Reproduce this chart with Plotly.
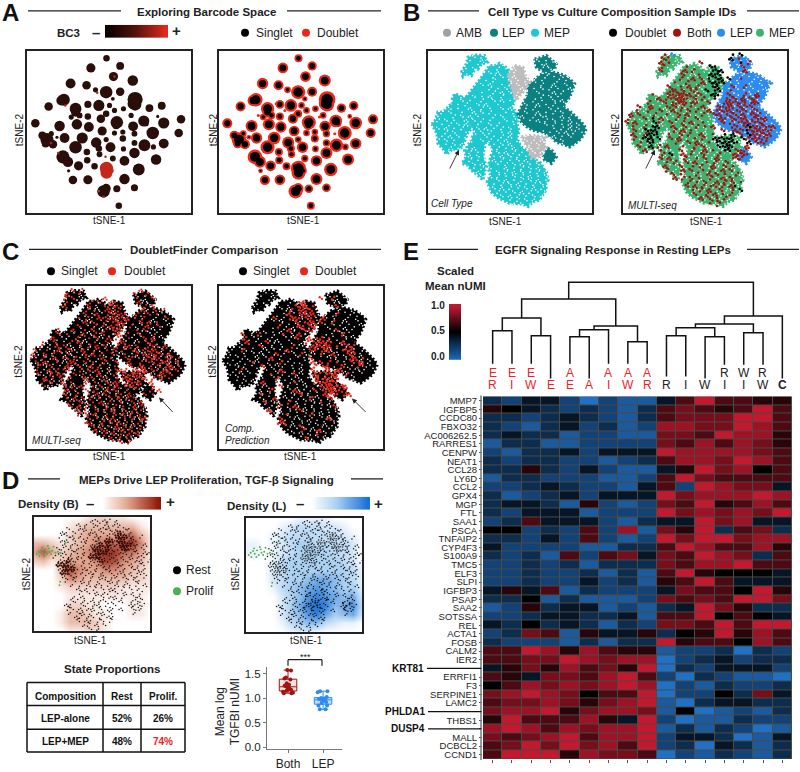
import plotly.graph_objects as go

W, H = 800, 772
FONT = "Liberation Sans"

# ---------- Panel A: barcode space clusters ----------
BLOB_X = [321,362,274,342,400,213,261,320,362,288,193,407,407,147,228,265,298,340,450,487,107,180,232,268,304,352,320,433,493,545,401,142,160,195,248,308,345,460,538,370,228,290,333,372,405,435,493,190,205,263,300,340,405,375,470,237,418,285,207,220,265,375,312,352,405,358,172,475,155,240,462,265,330,395,240,215,345,372,405,298,262,320,370,440,300,128,138,350,228,185,320,400]
BLOB_Y = [173,196,202,228,240,249,254,275,274,268,298,297,312,318,325,312,315,295,323,316,369,377,372,380,355,366,340,362,368,357,378,418,432,413,413,392,398,398,398,415,441,427,441,446,428,435,430,470,485,480,462,475,458,482,478,497,508,498,512,540,539,537,574,566,563,617,411,348,400,345,440,348,315,345,345,350,330,325,400,445,455,418,395,370,315,405,430,375,335,300,565,310]
BLOB_D = [18,22,26,26,30,28,24,36,24,14,34,44,36,24,34,20,32,10,22,22,24,30,30,28,24,36,18,32,32,24,28,38,24,28,32,26,14,36,24,18,36,30,28,14,16,34,28,38,30,18,16,16,30,28,30,26,34,18,8,24,26,30,36,20,20,18,8,8,14,14,14,18,14,14,16,14,14,14,16,18,18,14,14,14,24,22,22,22,26,28,26,30]
CENTER_X = [321,321,336,310]
CENTER_Y = [505,518,512,498]
CENTER_D = [40,36,14,14]
SPOT_X = [154,197,176,298,345,293,318,312]
SPOT_Y = [428,315,458,573,228,277,470,590]
EXTRA_DOUBLET_X = [169,206,474,219,264,254,384,200,310,280,430]
EXTRA_DOUBLET_Y = [410,512,345,330,345,310,350,345,340,330,400]

# ---------- Panels B, C: shared embedding regions ----------
MEP_TOP = [(185,215),(192,205),(200,190),(205,170),(225,163),(255,165),(258,175),(250,172),(262,185),(245,190),(235,205),(228,200),(215,225),(200,218),(190,228)]
MEP_MAIN = [(200,290),(222,262),(240,240),(252,222),(270,195),(285,196),(300,188),(315,200),(325,205),(330,225),(335,240),(342,265),(340,290),(345,305),(335,320),(350,335),(355,345),(352,370),(358,395),(352,408),(355,420),(365,440),(385,455),(395,470),(410,480),(422,488),(430,500),(440,515),(445,540),(438,552),(440,570),(428,585),(420,600),(400,605),(385,620),(365,612),(350,612),(330,610),(310,600),(290,590),(275,575),(268,560),(262,545),(272,525),(265,500),(272,475),(280,450),(272,435),(260,420),(255,440),(250,460),(258,500),(250,540),(235,525),(215,510),(205,495),(187,490),(200,470),(195,450),(215,420),(225,390),(215,380),(200,350),(190,320),(185,290)]
MEP_LEFT = [(97,372),(108,358),(115,335),(130,335),(150,315),(160,310),(158,295),(165,280),(178,285),(185,290),(195,330),(205,360),(215,385),(205,395),(195,420),(188,440),(170,450),(160,445),(140,462),(130,445),(115,430),(112,400)]
LEP_MAIN = [(405,175),(420,172),(440,165),(455,178),(470,190),(465,205),(450,205),(460,215),(490,222),(510,235),(525,250),(518,270),(510,290),(498,305),(490,320),(510,332),(530,350),(545,365),(560,385),(552,400),(545,415),(528,428),(510,440),(490,432),(470,425),(455,412),(440,400),(420,395),(400,390),(380,378),(365,365),(355,340),(370,310),(378,295),(385,280),(385,255),(402,240),(420,225),(438,215),(425,210),(410,200)]
LEP_SMALL = [(430,465),(445,445),(458,452),(470,470),(455,490),(435,480)]
AMB_TOP = [(325,225),(335,210),(345,195),(370,200),(378,225),(390,245),(375,270),(360,285),(350,300),(340,280)]
AMB_LOW = [(365,410),(400,405),(425,408),(440,410),(432,425),(440,440),(420,470),(395,475),(385,445)]

SPECKLE = [
"..........................................",
"...........x.y............................",
"..........w..z.............x.w.y..........",
".........y..w.....x.........wz..x.........",
".........w.x.....y.w.z......y.x.w.........",
"........y......x.z...w..y...xwy..z........",
"..........w.....y.x..z..w.x..y.w.x.z......",
"..............w.y...x.w.y.z.w...y.w.......",
".............x.z..w.y.x.w...y..z..x.w.....",
"...............y.w.x...z..w.x.y.w..z......",
".............w..y.z.x.w.y..x...z.y........",
"........y..x.w.z..y...x.w...y.x.w.........",
"........x.w..y..x.z.w.....y.w..x.z........",
".......w.y..x.z..w...y..x..z.w.y..........",
".....x.w..z..y.w..x.z...w.y...x.w.........",
"...y.x..w..z.x.y...w.y..x..z.w.y.x........",
"..w...y.x.z.w...y.x..w.z..y.xw...z.y......",
"..y.x.w..z.x.y.w...x.y...w.z.y.x.w.z......",
"...w.y.x.z..w..x.y...w.......x.y.w.z.x....",
"..x.z.w.y...x.z.w.y.x..........w.y.z.x.w..",
"....y.x..w.z.x.y..w.z..x....y.w.x.z.y.w...",
"...w.z.x.y....x.w.y.z...w.x.y..z.w.x......",
"..y.x.w...z..x.y.w.z..y.x.w.z.y..x........",
"....w.x.z.....y.w.x.z..w.y.x.w...z........",
".....y.w.x.z...x.y.w.z...x.w..............",
".....x....y.w....x.z.y.w..x.z.............",
"..........z.x.y.w.z.x.y.w.................",
"..........y.w.x.z.y.w.x.z..y..............",
"...........x.z...w.y.x.z.w.x.y............",
"...........w.y.x...z.w.y.x.z.w............",
"............z..w.x.y.z.x.w.y.z............",
".............x.z.y.w.x.y.z.w.x............",
"..............y..x.z.w.y.x.z.w............",
"................w.y.x.z.w.y.x.z...........",
"................x.z.y.w.x.z.y.............",
".................y.w.x.z.y.w.x............",
"..................x.z.y.w.x.z.............",
"....................w.y.x.z.y.............",
".....................z.x.w.y..............",
"........................x.................",
]

MULTI_ID = [
"..........................................",
"..........r.c..............k.l............",
"..........st...............mbr.c..........",
".........u.r.......s.........k.t..........",
"..........t.....r.....lk....c.s...........",
".........s.....u.t....klm.....u...........",
"...............s...r..mkl........b........",
"..............t..u.s.k.lm.l..r............",
".............r..t...u.lmkl...........c....",
"...........s..r.u.t...km...s..t....d......",
"............tu.s.rt..l.kl..r....b.........",
".......r...srtusu.tr..ml..s...t..u........",
".........u.trsusr.s.t..k..rts.u.st........",
"......t...s.rtus.ur..s...turstr.us........",
"....s..u...rts.t.r..u...srtu.strs.........",
"...r..t..s..u.r.s.t..u.rstu.rts.trc.......",
"..u.s...t..r..s.u...t..su.rts.u.rst.......",
".t...s.k.u...t.r..s.....ur.stru.tsrub.....",
".s.u....lr..s..t.u..r....s.t.rsutrstd.....",
"..r..t.km...u..s..t.r.u....trcslurtsru....",
"...s..lkm....t.u.r.......s..utrkstursr....",
"..u..tmlk..r..s.t..u..r..k.m.s.lurtsu.....",
"...t.klm.l..s.u...r.t..mklkm..ltsurtr.....",
"....r.lk.....t..s.u..r.klmklk..m.srt......",
"....s..m.t.u...r..t.s...lkml...u..........",
".....u...r....s..t..u.r..kl.srt...........",
"..........t.l..u.r..s...t...utsr..........",
".........s.u...t..r.s..u...rst............",
"...........r.t..s.u..r.t..s...............",
"..........u...s..r.t..u..s.r..............",
"...........t...u.s..r.t..u.s..............",
"............s.r...t..u.s.r..t.............",
".............u.t.s.r..t..u.s..............",
"................t.r.s..u.t.s.r............",
"................s.u.t.rs.t.uk.............",
".................r.t.u..s..r.l............",
"..................s..t.u.r.t..............",
"...................u.s.r.t................",
"......................t.s.................",
".......................r..................",
]

DOUBLET_MULTI = [
"..........................................",
"...........s.t..............u.............",
"..........u..r.............s..t...........",
".........t.s.......u.......r...s..........",
"..........r.....t.s..ur.....u.............",
".........u.....s...rtsur.....t.s..........",
"...............t.r..usrt.....u..s.t.......",
"..............s..u..trsur..t..s.r.........",
".............r.t..urstursu.r.t.....s......",
"..............u.s..t.rsut...s.u.r.........",
".............s...t.r.utsr.t...u..s........",
".......t...u..r.s..t.rus...r.s............",
"........s.r...u..t.s..ru.t..s...r.........",
"......u.....t..r.s..u.t..r...s.u..........",
"....r..s...t.u...r..s..tu...r.st..........",
"...t...u.s...r.t.u.s..t.ru.s..trs.u.......",
"..s..r..u.ts..u..t..r.s.t..u.rstu.r.......",
".u..s.t...r...s.u.t..s..r..t.ursts.u......",
".r..t..u.rs.t..s...u.r...st.r.tsur.st.r...",
"..s.u..r..tu..s.r..t..s..u..t.rs.tur.s....",
"...t..s...ur.s..u.t...r...s.tu.r.s.tu.r...",
"..r..u.t.sr..t.s.u..r.sut.rstu.sr.ut.s....",
"...s..t.ur..s.r...u...t.rstust.r.tu.s.....",
"....u.r.s.t...u.s..t..r.ustrsu.t.s.r......",
"....t.s..u.r...t.r..s.ur.tsru..u..........",
"....r....s.t.u..r.s.t.u.rsut...s..........",
"..........u.r..s.t..u.s..r.....t.u........",
".........s..t..r.u.s..tr.u...s.r..........",
"..........r.u.s.t.r..s.u.t.s..............",
"..........t..s..r.u.t..r..s.u.............",
"...........s.u.t.r..s.t.r..u.s............",
"............u.r..s.t.u..s.t.r.............",
".............t.s.u..r.s.u.t.s.............",
"...............s.r.t.u..r.t.su............",
"...............ur..t.s.u.r..t.............",
"................s.t.r.u.s.t.r.............",
".................u.sr.t.u.s.t.............",
"...................t.s.r.u.s..............",
".....................u.t.r................",
".......................s.t................",
]

DOUBLET_PRED = [
"..........................................",
"..........................................",
"..........................................",
".........................s..t.............",
"....................ru....................",
"...................stu.r.....s............",
"..................t.ruts..................",
".................u..srtu.....t............",
"..............s...tur.sr..u...............",
"...................s.rtu.s..t.............",
"...............t....ur.st.................",
".................u...srt.....s............",
"......s...t.....r...u..........t..........",
"......t............s..u.rt.r..............",
".......u....s.........t.srutr..u..........",
"..........s.......t....urstu.r..st........",
"......t..........u.....sr.tu...rsu........",
"..............s.....t....r..u...st........",
".............u.........s.........tu.r.....",
"........r......t.......u.s.t.r...s.u......",
"...........s............t.ru...s...t......",
".....t.........u.......s..tr.us...........",
".............r.....s....ut.rsu..t.........",
"..............t.........s.urts............",
"...........u.......r....tsruts............",
"...............s.........rtusrtu..........",
".............t.....u....s.rtusrt..........",
"..........r.........s.....utsr.tu.........",
"..............u........t....s.............",
"...........s.....t.......r................",
"...............t...u.........s............",
"............u.......s.....................",
".................r.....t..................",
"...............s...........u..............",
"...............tu.........................",
"....................s.....................",
".....................t...u................",
"........................r.................",
"......................s...................",
"..........................................",
]

# ---------- Panel D ----------
LEP_CELLS = [
".............................",
"..............op.qn.o........",
"...........q.o.pn.q.op.......",
"........p..oq.n.opq.n.po.....",
".......qo.p.n.oq.p.no#q.o....",
"......n.pq.o.n.qo.p.#%#qo.n..",
".......oq.p.no.pq.%#o%#.qp..",
".......q.op.n.oq#n%qo#%#po.q.",
"......pn.q.op.n%#o#q.n#%oq.p.",
"......oq.np.o.q#%#pn.oq.np.qo",
".....n.p.q.on.%#%q.pn.o.q.op.",
"......qo%pn.o.qp#on.q.pn.oq.n",
"......%#%qo.n.p.oq.n.po.q.np.",
"......o#%#p.qn.o.pq.n.o.pq.o.",
".......%#np.o.qn.o.p.nq.o.qp.",
".......q.po.n.o.qp.no.q.po.n.",
"........n.p.q.o.n.pq.o.n.po..",
".........o.n.q.op.n.q.op.n.q.",
"...........q.o.n.p.qo.n.p.o..",
"...........n.p.q.on.p.q.o.n..",
"..........o.q..n.p.oq.n..pq..",
".........pn.o.q.op.n.q..opn..",
"........qo..pn.oq.n.p...qopn.",
"........np.q.oq.p.no.q..pno..",
".........o.pq.n.oq.p.....o...",
"..........qn.op.n.qo.........",
"...........p.qo.np.n.........",
"............on.q.p...........",
"..............p.o............",
]
PROLIF_X = [112,118,125,130,137,142,148,150,158,162,168,175,183,120,135,155,128,145,198,182,180]
PROLIF_Y = [262,255,250,258,248,262,245,255,252,240,258,255,258,268,268,262,242,238,228,345,355]
DENSITY_L_X = [300,310,320,290,305,315,325,300,392,402,412,397,282,335,345,275,295,330]
DENSITY_L_Y = [396,405,398,408,416,412,420,428,405,414,408,425,385,380,395,420,375,365]
DENSITY_B = [
[0,0,0,0,0,0,1,2,2,1,1,0,0,0],
[0,0,0,0,1,2,3,3,3,3,3,3,1,0],
[0,0,0,0,2,3,4,4,4,4,5,6,3,1],
[3,3,2,1,2,3,4,5,6,6,7,8,5,1],
[4,7,4,2,3,4,5,6,8,8,6,6,4,1],
[2,3,1,2,4,4,4,5,8,7,5,4,3,1],
[0,0,0,3,7,5,4,4,5,5,4,3,2,1],
[0,0,0,2,5,4,3,3,3,3,3,2,2,1],
[0,0,0,1,2,2,2,2,2,2,1,1,1,1],
[0,0,0,0,1,1,1,1,1,1,1,1,1,0],
[0,0,0,0,2,2,1,1,0,0,0,1,1,0],
[0,0,0,1,3,3,2,1,1,0,0,1,1,0],
[0,0,0,1,3,3,3,2,1,0,0,0,0,0],
[0,0,0,0,1,1,2,2,1,0,0,0,0,0],
]
DENSITY_L = [
[0,0,0,0,0,0,1,1,1,1,0,0,0,0],
[0,0,0,0,1,2,3,3,3,2,2,1,0,0],
[0,0,0,1,2,3,3,3,3,3,3,2,1,0],
[1,1,0,1,2,3,4,4,3,3,3,3,2,0],
[1,1,0,1,2,3,4,4,4,4,3,3,2,0],
[0,0,0,1,3,4,4,4,4,4,4,3,2,0],
[0,0,0,2,3,4,4,4,4,4,4,4,3,1],
[0,0,0,2,3,4,4,5,6,6,5,4,3,1],
[0,0,0,1,3,4,5,6,7,6,5,4,4,1],
[0,0,0,0,2,4,5,7,8,7,6,5,6,2],
[0,0,0,0,2,4,6,8,9,8,5,6,7,3],
[0,0,0,0,2,4,5,7,8,6,4,5,6,2],
[0,0,0,0,1,3,4,5,5,3,2,1,1,0],
[0,0,0,0,0,1,2,2,1,0,0,0,0,0],
]
TGFBI_BOTH = [1.57,1.56,1.42,1.40,1.38,1.30,1.27,1.25,1.23,1.20,1.18,1.17,1.15,1.13,1.11,1.10,1.10]
TGFBI_LEP = [1.14,1.14,1.12,1.02,1.00,0.99,0.98,0.97,0.96,0.94,0.92,0.90,0.85,0.85,0.77,0.77]
TABLE_HEAD = ["Composition","Rest","Prolif."]
TABLE_COMP = ["LEP-alone","LEP+MEP"]
TABLE_REST = ["52%","48%"]
TABLE_PROLIF = ["26%","74%"]

# ---------- Panel E ----------
GENES = ["MMP7","IGFBP5","CCDC80","FBXO32","AC006262.5","RARRES1","CENPW","NEAT1","CCL28","LY6D","CCL2","GPX4","MGP","FTL","SAA1","PSCA","TNFAIP2","CYP4F3","S100A9","TMC5","ELF3","SLPI","IGFBP3","PSAP","SAA2","SOTSSA","REL","ACTA1","FOSB","CALM2","IER2","KRT81","ERRFI1","F3","SERPINE1","LAMC2","PHLDA1","THBS1","DUSP4","MALL","DCBCL2","CCND1"]
BOLD_GENES = ["KRT81","PHLDA1","DUSP4"]
EXPR = [
[3,2,4,4,2,0,2,1,1,4,7,10,7,7,6,6],
[6,5,4,3,2,3,2,1,3,7,8,7,6,7,10,7],
[3,3,2,3,4,3,2,1,3,7,8,8,8,10,10,7],
[3,2,1,3,4,2,3,1,2,9,9,8,8,10,9,7],
[3,4,3,3,1,2,2,1,1,8,8,7,10,9,9,6],
[1,3,3,1,1,2,2,2,2,8,7,9,7,9,8,6],
[2,1,3,3,4,2,4,4,4,10,9,9,9,9,8,7],
[3,2,3,3,2,2,1,2,3,7,9,9,8,10,9,7],
[3,3,6,3,2,4,2,1,1,4,6,10,8,9,5,7],
[1,3,3,2,2,2,1,1,2,7,10,8,7,7,7,7],
[2,2,3,4,3,2,2,1,4,7,2,10,9,8,8,4],
[3,1,2,3,4,2,4,4,4,10,8,9,9,9,10,9],
[3,4,4,3,1,6,2,1,2,8,7,10,6,7,9,7],
[3,2,4,4,4,1,2,2,2,10,8,9,8,9,8,10],
[2,3,7,4,4,4,2,1,3,4,4,10,8,9,4,4],
[5,5,2,3,2,7,2,9,1,8,6,10,3,7,8,3],
[3,3,2,4,2,7,2,1,2,10,8,10,10,8,9,9],
[4,2,2,2,2,1,1,3,3,7,10,9,7,7,9,6],
[3,2,3,1,7,2,7,8,4,8,7,10,9,8,3,7],
[2,2,3,2,3,1,3,3,3,8,7,9,9,10,7,7],
[2,2,3,2,2,3,1,3,1,7,10,6,5,5,5,4],
[2,2,3,2,2,4,2,3,1,6,7,10,7,4,4,4],
[4,6,4,7,1,3,2,2,2,4,8,7,7,5,10,6],
[3,3,5,1,3,1,1,1,2,8,7,8,7,10,10,8],
[1,2,6,3,4,4,1,2,1,3,4,10,8,6,3,3],
[2,2,3,4,4,3,3,4,1,7,7,10,5,7,5,4],
[4,3,5,3,4,3,1,3,2,8,8,7,10,7,10,10],
[2,3,8,7,1,6,4,4,6,3,5,6,10,6,9,7],
[3,2,2,2,1,3,1,3,3,10,6,7,7,5,9,7],
[7,7,10,9,6,9,7,6,6,1,2,2,3,0,3,2],
[7,7,8,8,10,9,8,9,9,0,2,3,4,2,3,3],
[4,6,8,6,9,7,8,6,10,0,3,2,4,4,4,2],
[7,6,4,8,8,7,9,10,7,2,0,3,2,1,1,0],
[5,7,9,8,9,8,9,10,9,0,2,1,3,2,2,3],
[8,9,10,9,8,5,7,7,10,0,2,2,5,3,8,4],
[7,8,8,9,8,6,8,9,10,1,0,3,4,4,3,3],
[8,9,9,10,6,8,9,9,8,1,5,0,1,2,1,3],
[6,10,7,7,7,9,6,4,10,2,0,1,1,3,2,2],
[9,10,9,7,9,8,9,9,10,1,3,1,3,2,0,1],
[8,7,8,9,10,7,9,9,10,2,4,4,3,0,1,4],
[7,8,10,8,10,8,9,7,10,2,3,0,4,3,1,3],
[7,10,10,10,6,9,8,8,7,0,2,1,3,2,1,3],
]
LEAF_TOP = ["E","E","E","","A","","A","A","A","","","","R","W","R",""]
LEAF_BOTTOM = ["R","I","W","E","E","A","I","W","R","R","I","W","I","I","W","C"]
LEAF_COLOR = ["#e8262a"]*9 + ["#222222"]*7
LEAF_BASE = [18,18,18,3,18,3,18,18,18,5,5,3,17,17,17,3]
MERGE_LEFT = [0,2,16,4,19,7,20,18,9,11,24,13,26,28,23]
MERGE_RIGHT = [1,3,17,5,6,8,21,22,10,12,25,14,27,15,29]
MERGE_HEIGHT = [51,46,64,45,52,40,56,83,46,45,54,49,58,66,100]
RAMP = [0,.1,.2,.3,.4,.5,.6,.7,.8,.9,1]
EXPR_SCALE = [[0,"#2070c4"],[.5,"#000000"],[1,"#c4182e"]]

# raster key: which series each letter belongs to, and which small group of points it stands for
SERIES_OF = dict(r="r",s="r",t="r",u="r",k="k",l="k",m="k",b="b",c="b",d="b",w="w",x="w",y="w",z="w",o="o",p="o",q="o",n="o")
SERIES_OF["#"] = "#"; SERIES_OF["%"] = "#"
GROUPS = {
 "r":[(0,0)], "k":[(0,0)], "b":[(0,0)], "w":[(0,0)], "o":[(0,0),(-5,4)],
 "s":[(-4,-3),(3,2)], "l":[(-4,-3),(3,2)], "c":[(-4,-3),(3,2)], "x":[(-4,-3),(3,2)], "p":[(-4,-3),(3,2)],
 "t":[(4,-4),(-3,4)], "d":[(4,-4),(-3,4)], "y":[(4,-4),(-3,4)], "n":[(4,-4),(-3,4)],
 "u":[(-5,2),(1,-2),(5,5)], "m":[(-5,2),(1,-2),(5,5)], "z":[(-5,2),(1,-2),(5,5)], "q":[(-5,2),(1,-2),(5,5)],
 "#":[(-4,-4),(4,-3),(-2,3),(5,4)], "%":[(-5,1),(0,-5),(4,2),(-1,5)],
}

# ---------- helpers ----------
def px(x): return x / W
def py(y): return 1 - y / H

layout = dict(width=W, height=H, margin=dict(l=0, r=0, t=0, b=0), paper_bgcolor="white",
              plot_bgcolor="white", showlegend=False, font=dict(family=FONT, color="#222222"),
              annotations=[], shapes=[])
fig = go.Figure()
count = [0]

def axes(x0, y0, x1, y1, xr, yr, frame=True, xopt=None, yopt=None):
    count[0] += 1
    n = count[0]
    s = "" if n == 1 else str(n)
    base = dict(showgrid=False, zeroline=False, showticklabels=False, ticks="", layer="above traces")
    if frame:
        base.update(showline=True, mirror=True, linewidth=2, linecolor="#222222")
    xa = dict(base, domain=[px(x0), px(x1)], anchor="y" + s)
    ya = dict(base, domain=[py(y1), py(y0)], anchor="x" + s)
    if xr: xa["range"] = xr
    if yr: ya["range"] = yr
    xa.update(xopt or {})
    ya.update(yopt or {})
    layout["xaxis" + s] = xa
    layout["yaxis" + s] = ya
    return dict(xaxis="x" + s, yaxis="y" + s)

def text(x, y, s, size=12, bold=False, color="#222222", anchor="center", italic=False, angle=0):
    if bold: s = "<b>%s</b>" % s
    if italic: s = "<i>%s</i>" % s
    layout["annotations"].append(dict(x=px(x), y=py(y), xref="paper", yref="paper", text=s, showarrow=False,
        xanchor=anchor, yanchor="middle", textangle=angle, align="center",
        font=dict(size=size, color=color, family=FONT), borderpad=0, borderwidth=0))

def line(x0, y0, x1, y1, color="#222222", width=1.5):
    layout["shapes"].append(dict(type="line", xref="paper", yref="paper", x0=px(x0), y0=py(y0), x1=px(x1), y1=py(y1),
                                 line=dict(color=color, width=width)))

def dot(x, y, color, r=4):
    layout["shapes"].append(dict(type="circle", xref="paper", yref="paper", x0=px(x-r), x1=px(x+r), y0=py(y+r), y1=py(y-r),
                                 fillcolor=color, line=dict(width=0)))

def arrow(x0, y0, x1, y1):
    layout["annotations"].append(dict(x=px(x1), y=py(y1), xref="paper", yref="paper", ax=x0-x1, ay=y0-y1,
        axref="pixel", ayref="pixel", text="", showarrow=True, arrowhead=2, arrowsize=1.1, arrowwidth=0.9, arrowcolor="#222222"))

def section(letter, lx, y, title, tx, segs):
    text(lx, y + 2, letter, 24, True, "#111111", "left")
    text(tx, y + 1, title, 11.5, True)
    for a, b in segs:
        line(a, y, b, y, "#222222", 1.3)

def lattice(rows, x0, y0, step, stagger):
    out = {}
    for r, row in enumerate(rows):
        for c, ch in enumerate(row):
            if ch != ".":
                xs, ys = out.setdefault(SERIES_OF[ch], ([], []))
                for dx, dy in GROUPS[ch]:
                    xs.append(x0 + c * step + (step / 2 if stagger and r % 2 else 0) + dx)
                    ys.append(y0 + r * step + dy)
    return out

def poly(points, color, ax):
    xs = [p[0] for p in points] + [points[0][0]]
    ys = [p[1] for p in points] + [points[0][1]]
    fig.add_trace(go.Scatter(x=xs, y=ys, mode="lines", fill="toself", fillcolor=color,
                             line=dict(color=color, width=3.2, dash="2px,2px"), hoverinfo="skip", **ax))

def pts(xs, ys, color, size, ax):
    fig.add_trace(go.Scatter(x=xs, y=ys, mode="markers", marker=dict(color=color, size=size, opacity=1, line=dict(width=0)), hoverinfo="skip", **ax))

def ramp(x0, y0, x1, y1, scale, vertical=False):
    ax = axes(x0, y0, x1, y1, None, None, frame=False)
    z = [[v, v] for v in RAMP] if vertical else [RAMP, RAMP]
    fig.add_trace(go.Heatmap(z=z, colorscale=scale, zmin=0, zmax=1, zsmooth="best", showscale=False, hoverinfo="skip", **ax))

XR, YR = [85, 577], [638, 150]
AXR, AYR = [82, 575], [638, 150]

def embedding(box, colors, overlay=None, overlay_colors=None, overlay_size=2.6):
    ax = axes(box[0], box[1], box[2], box[3], XR, YR)
    for p in (MEP_TOP, MEP_MAIN, MEP_LEFT):
        poly(p, colors["MEP"], ax)
    for p in (LEP_MAIN, LEP_SMALL):
        poly(p, colors["LEP"], ax)
    for p in (AMB_TOP, AMB_LOW):
        poly(p, colors["AMB"], ax)
    sp = lattice(SPECKLE, XR[0] + 6, YR[1] + 6, 12, False)["w"]
    pts(sp[0], sp[1], "white", 1.6, ax)
    if overlay:
        for ch, (xs, ys) in lattice(overlay, XR[0], YR[1], 12, True).items():
            pts(xs, ys, overlay_colors[ch], overlay_size, ax)
    return ax

# ---------- A ----------
section("A", 2, 10, "Exploring Barcode Space", 206, [(28, 121), (287, 381)])
text(57, 32, "BC3", 11.5, True, anchor="left")
text(96, 32, "–", 15, True)
text(176, 30, "+", 15, True)
ramp(105, 24, 168, 37, [[0, "#0a0000"], [.5, "#5a120c"], [1, "#e2281a"]])
dot(245, 32, "#000000"); text(256, 32, "Singlet", 12, anchor="left")
dot(306, 32, "#e8261c"); text(317, 32, "Doublet", 12, anchor="left")
ax = axes(27, 50, 191, 213, AXR, AYR)
pts(BLOB_X, BLOB_Y, "#2a0e0a", [d / 3 + 0.5 for d in BLOB_D], ax)
pts(CENTER_X, CENTER_Y, "#c4281a", [d / 3 for d in CENTER_D], ax)
pts(SPOT_X, SPOT_Y, "#b02818", 2.5, ax)
ax = axes(219, 50, 383, 213, AXR, AYR)
pts(BLOB_X + CENTER_X, BLOB_Y + CENTER_Y, "#f0281a", [d / 3 + 2 for d in BLOB_D + CENTER_D], ax)
pts(EXTRA_DOUBLET_X, EXTRA_DOUBLET_Y, "#f0281a", 3, ax)
pts(BLOB_X + CENTER_X, BLOB_Y + CENTER_Y, "#000000", [d / 3 * 0.78 for d in BLOB_D + CENTER_D], ax)
for x in (19, 213):
    text(x, 130, "tSNE-2", 10, angle=-90)
text(109, 221, "tSNE-1", 10); text(303, 221, "tSNE-1", 10)

# ---------- B ----------
section("B", 403, 10, "Cell Type vs Culture Composition Sample IDs", 612, [(428, 479), (747, 799)])
for x, tx, c, s in [(447, 456, "#a0a0a0", "AMB"), (494, 502, "#0c7f80", "LEP"), (535, 544, "#1fc8cf", "MEP"),
                    (613, 625, "#000000", "Doublet"), (677, 687, "#a01410", "Both"), (721, 730, "#2c8cf0", "LEP"), (760, 769, "#3cb371", "MEP")]:
    dot(x, 32, c); text(tx, 32, s, 12, anchor="left")
embedding((428, 50, 592, 213), dict(MEP="#1fc8cf", LEP="#0c7f80", AMB="#bdbdbd"))
embedding((623, 50, 787, 213), dict(MEP="#3cb371", LEP="#2c8cf0", AMB="#3cb371"), MULTI_ID,
          dict(r="#a01410", k="#000000", b="#2c8cf0"))
text(417, 130, "tSNE-2", 10, angle=-90); text(615, 130, "tSNE-2", 10, angle=-90)
text(506, 222, "tSNE-1", 10); text(706, 222, "tSNE-1", 10)
text(431, 204, "Cell Type", 10, italic=True, anchor="left")
text(628, 206, "MULTI-seq", 10, italic=True, anchor="left")
arrow(449, 170, 459, 150); arrow(645, 170, 655, 150)

# ---------- C ----------
section("C", 2, 250, "DoubletFinder Comparison", 204, [(29, 122), (287, 381)])
for x, tx, xr, txr in [(51, 61, 112, 124), (243, 253, 304, 315)]:
    dot(x, 272, "#000000"); text(tx, 272, "Singlet", 12, anchor="left")
    dot(xr, 272, "#e8261c"); text(txr, 272, "Doublet", 12, anchor="left")
BLACK = dict(MEP="#000000", LEP="#000000", AMB="#000000")
embedding((27, 287, 191, 451), BLACK, DOUBLET_MULTI, dict(r="#ee2a1c"), 2.2)
embedding((219, 287, 383, 451), BLACK, DOUBLET_PRED, dict(r="#ee2a1c"), 2.4)
text(19, 363, "tSNE-2", 10, angle=-90); text(213, 363, "tSNE-2", 10, angle=-90)
text(109, 458, "tSNE-1", 10); text(300, 458, "tSNE-1", 10)
text(32, 442, "MULTI-seq", 10, italic=True, anchor="left")
text(225, 430, "Comp.", 10, italic=True, anchor="left")
text(225, 442, "Prediction", 10, italic=True, anchor="left")
arrow(174, 415, 159, 399); arrow(367, 415, 352, 400)

# ---------- D ----------
section("D", 2, 481, "MEPs Drive LEP Proliferation, TGF-β Signaling", 206, [(28, 60), (351, 383)])
text(18, 506, "Density (B)", 11.5, True, anchor="left")
text(90, 506, "–", 15, True); text(170, 504, "+", 15, True)
BSCALE = [[0, "#ffffff"], [.45, "#e2a48e"], [1, "#8f1a08"]]
LSCALE = [[0, "#ffffff"], [.45, "#a9cff2"], [1, "#1a72d8"]]
ramp(99, 499, 161, 512, BSCALE)
text(227, 508, "Density (L)", 11.5, True, anchor="left")
text(300, 506, "–", 15, True); text(378, 506, "+", 15, True)
ramp(308, 499, 370, 512, LSCALE)
DXR, DYR = [104, 449], [492, 150]
DGX = [104 + 345 / 13 * i for i in range(14)]
DGY = [150 + 342 / 13 * i for i in range(14)]
cells = lattice(LEP_CELLS, 104, 150, 12, True)
for box, dens, scale, right in [((34, 519, 150, 634), DENSITY_B, BSCALE, False), ((246, 520, 362, 635), DENSITY_L, LSCALE, True)]:
    ax = axes(box[0], box[1], box[2], box[3], DXR, DYR)
    fig.add_trace(go.Heatmap(x=DGX, y=DGY, z=dens, zmin=0, zmax=9, colorscale=scale, zsmooth="best", showscale=False, hoverinfo="skip", **ax))
    pts(cells["o"][0], cells["o"][1], "#111111", 1.5, ax)
    pts(cells["#"][0], cells["#"][1], "#222222" if right else "#3a0a04", 1.5 if right else 2.2, ax)
    if right:
        pts(DENSITY_L_X, DENSITY_L_Y, "#111111", 2, ax)
    pts(PROLIF_X, PROLIF_Y, "#4caf50", 1.9, ax)
dot(177, 573, "#000000"); text(186, 573, "Rest", 12, anchor="left")
dot(177, 594, "#4caf50"); text(186, 594, "Prolif", 12, anchor="left")
text(26, 577, "tSNE-2", 10, angle=-90); text(235, 577, "tSNE-2", 10, angle=-90)
text(90, 644, "tSNE-1", 10); text(306, 644, "tSNE-1", 10)
text(112, 672, "State Proportions", 11.5, True)

# state table
for x in (27, 103, 141, 185):
    line(x, 686, x, 756, "#111111", 1.5)
for y in (686, 709, 733, 756):
    line(27, y, 185, y, "#111111", 1.5)
COLX = [65, 122, 163]
for i, s in enumerate(TABLE_HEAD):
    text(COLX[i], 700, s, 10, True, "#111111")
for j, y in enumerate((722, 745)):
    text(COLX[0], y, TABLE_COMP[j], 10, True, "#111111")
    text(COLX[1], y, TABLE_REST[j], 10, True, "#111111")
    text(COLX[2], y, TABLE_PROLIF[j], 10, True, "#ee2020" if j == 1 else "#111111")

ax = axes(267, 670, 342, 753, [-0.6, 1.54], [-0.04, 1.64], frame=False,
          xopt=dict(showline=True, linecolor="#777777", linewidth=1, ticks="outside", ticklen=3, tickcolor="#777777",
                    showticklabels=True, tickfont=dict(size=12, color="#222222"), type="category"),
          yopt=dict(showline=True, linecolor="#777777", linewidth=1, ticks="outside", ticklen=3, tickcolor="#777777",
                    showticklabels=True, tickfont=dict(size=11.5, color="#222222"), tickvals=[0, .5, 1, 1.5], ticktext=["0.0", "0.5", "1.0", "1.5"]))
for name, vals, c, f in [("Both", TGFBI_BOTH, "#a01410", "rgba(160,20,16,0.12)"), ("LEP", TGFBI_LEP, "#2c8cf0", "rgba(44,140,240,0.30)")]:
    fig.add_trace(go.Box(y=vals, name=name, boxpoints="all", jitter=0.75, pointpos=0, width=0.5, fillcolor=f,
                         line=dict(color=c, width=1), marker=dict(color=c, size=4), hoverinfo="skip", **ax))
line(288, 669, 288, 663, "#222222", 1.2); line(288, 663, 322, 663, "#222222", 1.2); line(322, 663, 322, 669, "#222222", 1.2)
text(305, 660, "***", 9)
text(220, 716, "Mean log", 12, angle=-90); text(235, 716, "TGFBI nUMI", 12, angle=-90)

# ---------- E ----------
section("E", 403, 250, "EGFR Signaling Response in Resting LEPs", 613, [(428, 478), (747, 799)])
text(456, 272, "Scaled", 11.5, True); text(456, 287, "Mean nUMI", 11.5, True)
ramp(449, 305, 461, 361, [[0, "#1c64b0"], [.5, "#000000"], [1, "#b81a30"]], vertical=True)
for y, s in [(306, "1.0"), (332, "0.5"), (358, "0.0")]:
    text(445, y, s, 10, True, anchor="right")

# dendrogram
ax = axes(483, 278, 792, 383, [-0.5, 15.5], [0, 105], frame=False)
node_x = list(range(16)); node_y = list(LEAF_BASE)
lx, ly = [], []
for a, b, h in zip(MERGE_LEFT, MERGE_RIGHT, MERGE_HEIGHT):
    lx += [node_x[a], node_x[a], node_x[b], node_x[b], None]
    ly += [node_y[a], h, h, node_y[b], None]
    node_x.append((node_x[a] + node_x[b]) / 2); node_y.append(h)
fig.add_trace(go.Scatter(x=lx, y=ly, mode="lines", line=dict(color="#111111", width=1.5), hoverinfo="skip", **ax))
for i in range(16):
    cx = 483 + 19.3 * (i + .5)
    if LEAF_TOP[i]:
        text(cx, 374, LEAF_TOP[i], 12, color=LEAF_COLOR[i])
    text(cx, 387, LEAF_BOTTOM[i], 12, color=LEAF_COLOR[i], bold=LEAF_BOTTOM[i] == "C")

# heatmap
labels = ["" if g in BOLD_GENES else g for g in GENES]
ax = axes(483, 398, 792, 763, [-0.5, 15.5], [41.5, -0.5], frame=False,
          xopt=dict(ticks="outside", ticklen=3, tickcolor="#555555", tickvals=list(range(16)), showline=False),
          yopt=dict(ticks="outside", ticklen=3, tickcolor="#555555", tickvals=list(range(42)), ticktext=labels,
                    showticklabels=True, tickfont=dict(size=9.5, color="#222222", family=FONT),
                    showline=False))
layout["shapes"].append(dict(type="rect", xref="paper", yref="paper", x0=px(483), x1=px(792), y0=py(763), y1=py(398),
                             fillcolor="#4a4a4a", line=dict(width=0), layer="below"))
fig.add_trace(go.Heatmap(z=[[v / 10 for v in row] for row in EXPR], zmin=0, zmax=1, colorscale=EXPR_SCALE, xgap=1, ygap=1,
                         showscale=False, hoverinfo="skip", **ax))
line(481, 397, 481, 764, "#777777", 1.5)
for g, x in zip(BOLD_GENES, (424, 425, 425)):
    y = 398 + (GENES.index(g) + .5) * 365 / 42
    text(x, y, g, 10, True, "#111111", anchor="right")
    line(x + 3, y, 481, y, "#111111", 1.2)

fig.update_layout(**layout)
fig.write_html("out.html", config={"displayModeBar": False}, post_script="document.body.style.margin='0';")
